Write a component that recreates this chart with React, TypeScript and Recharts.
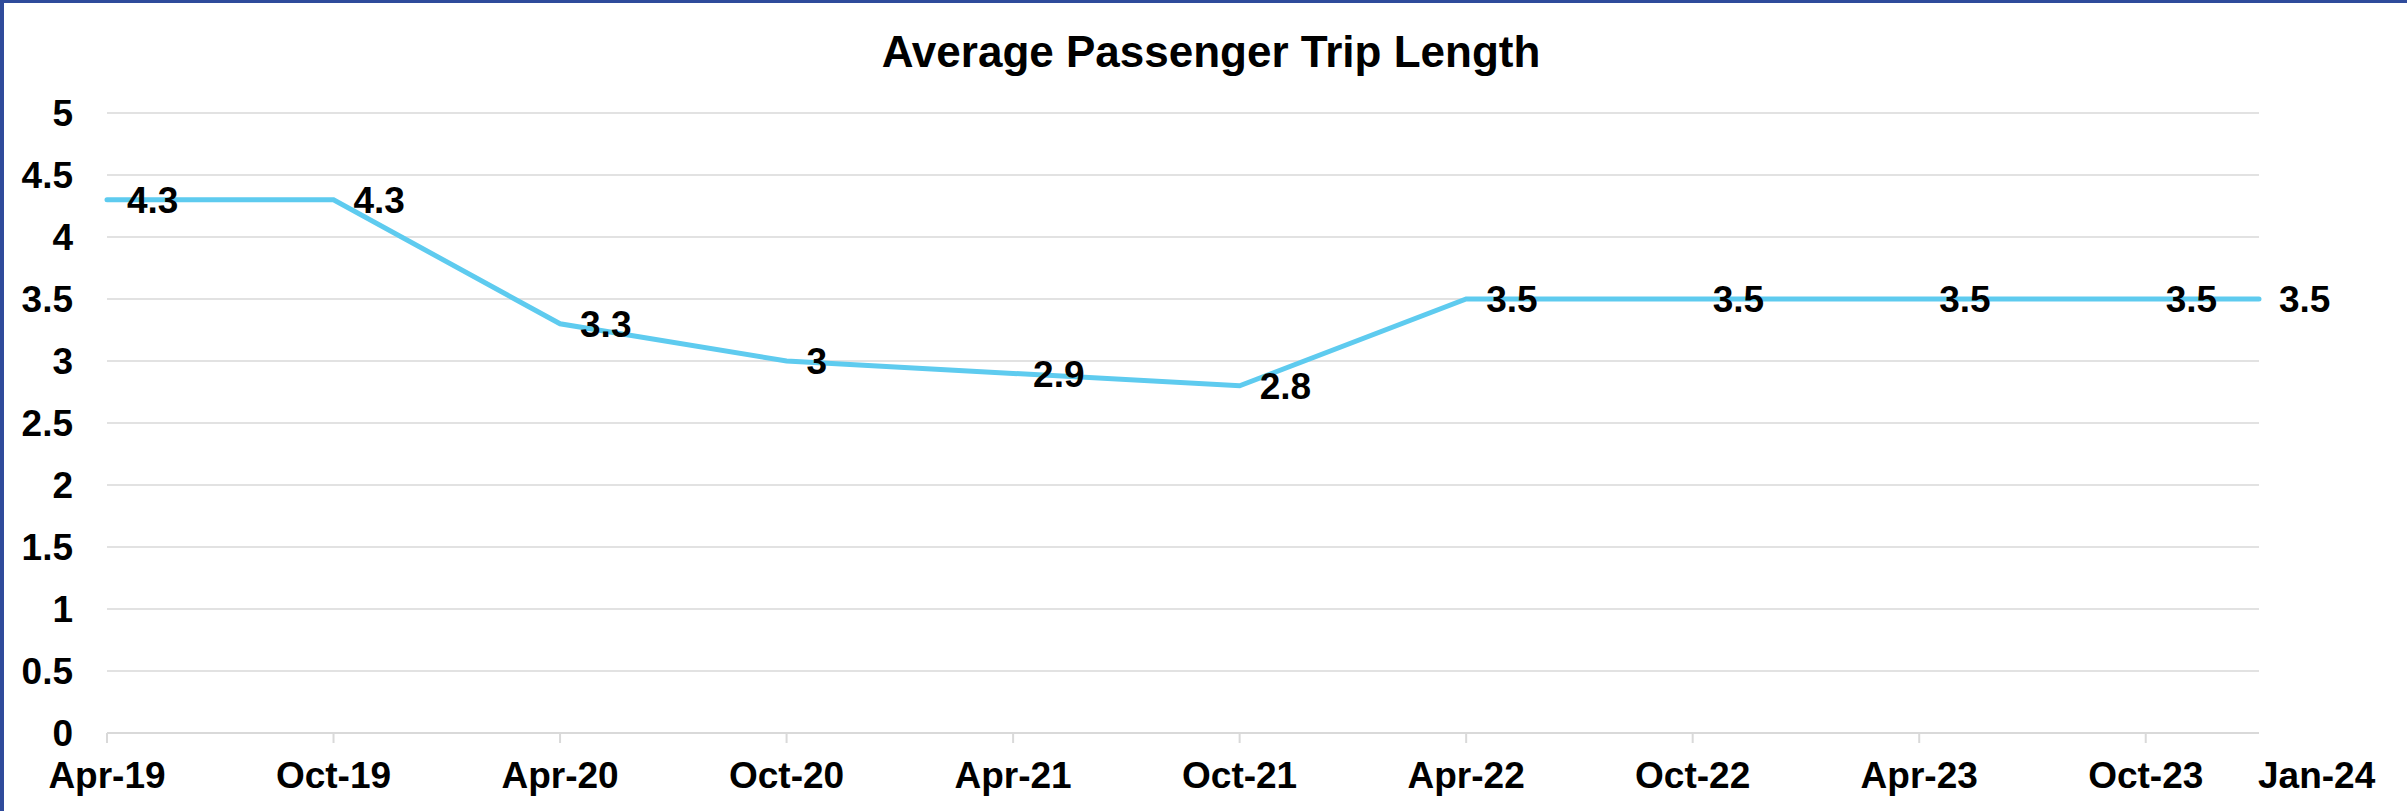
import React from "react";
import { CartesianGrid, LabelList, Line, LineChart, XAxis, YAxis } from "recharts";

const categories = [
  "Apr-19",
  "Oct-19",
  "Apr-20",
  "Oct-20",
  "Apr-21",
  "Oct-21",
  "Apr-22",
  "Oct-22",
  "Apr-23",
  "Oct-23",
  "Jan-24",
];
// months since Apr-19 (date axis)
const monthOffsets = [0, 6, 12, 18, 24, 30, 36, 42, 48, 54, 57];
const tripLength = [4.3, 4.3, 3.3, 3, 2.9, 2.8, 3.5, 3.5, 3.5, 3.5, 3.5];
const yTicks = [0, 0.5, 1, 1.5, 2, 2.5, 3, 3.5, 4, 4.5, 5];

const data = categories.map((label, i) => ({
  label,
  m: monthOffsets[i],
  value: tripLength[i],
}));

const WIDTH = 2407;
const HEIGHT = 811;
const FONT = "'Liberation Sans', Arial, Helvetica, sans-serif";
const GRID = "#d9d9d9";
const LINE = "#5ecbef";

function XTick({ x, y, payload }: { x?: number; y?: number; payload?: { value: number } }) {
  if (x == null || y == null || !payload) return null;
  const i = monthOffsets.indexOf(payload.value);
  const last = i === monthOffsets.length - 1;
  return (
    <g>
      {!last ? <line x1={x} x2={x} y1={y - 10} y2={y} stroke={GRID} strokeWidth={2} /> : null}
      <text
        x={last ? x - 1 : x}
        y={y + 45}
        textAnchor={last ? "start" : "middle"}
        fontSize={37}
        fontWeight="bold"
        fill="#000"
      >
        {categories[i] ?? ""}
      </text>
    </g>
  );
}

export default function App() {
  return (
    <div
      style={{
        position: "absolute",
        left: 0,
        top: 0,
        width: WIDTH,
        height: HEIGHT,
        background: "#fff",
        fontFamily: FONT,
        overflow: "hidden",
      }}
    >
      <div style={{ position: "absolute", left: 0, top: 0, width: 4, height: HEIGHT, background: "#2f4b9b" }} />
      <div style={{ position: "absolute", left: 0, top: 0, width: WIDTH, height: 3, background: "#2f4b9b" }} />
      <div
        style={{
          position: "absolute",
          left: 1211,
          top: 30,
          transform: "translateX(-50%)",
          fontSize: 44,
          lineHeight: 1,
          fontWeight: "bold",
          whiteSpace: "nowrap",
          color: "#000",
        }}
      >
        Average Passenger Trip Length
      </div>
      <LineChart
        width={WIDTH}
        height={HEIGHT}
        data={data}
        margin={{ top: 113, right: 148, bottom: 0, left: 0 }}
        style={{ position: "absolute", left: 0, top: 0 }}
      >
        <CartesianGrid horizontal vertical={false} stroke={GRID} strokeWidth={1.5} />
        <XAxis
          dataKey="m"
          type="number"
          domain={[0, 57]}
          ticks={monthOffsets}
          interval={0}
          height={78}
          tickLine={false}
          tickSize={10}
          tickMargin={0}
          axisLine={{ stroke: GRID, strokeWidth: 2 }}
          tick={<XTick />}
        />
        <YAxis
          type="number"
          domain={[0, 5]}
          ticks={yTicks}
          interval={0}
          width={107}
          axisLine={false}
          tickLine={false}
          tickMargin={28}
          tick={{ fill: "#000", fontSize: 37, fontWeight: "bold" }}
        />
        <Line
          type="linear"
          dataKey="value"
          stroke={LINE}
          strokeWidth={5}
          strokeLinecap="round"
          dot={false}
          activeDot={false}
          isAnimationActive={false}
        >
          <LabelList dataKey="value" position="right" offset={20} fill="#000" fontSize={37} fontWeight="bold" />
        </Line>
      </LineChart>
    </div>
  );
}
